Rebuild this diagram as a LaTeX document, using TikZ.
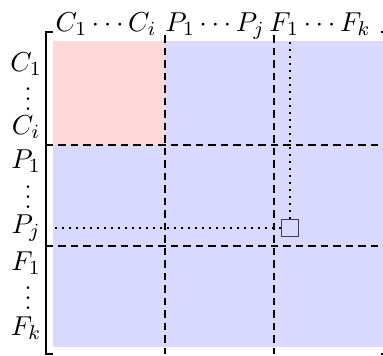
\documentclass[tikz,border=0pt]{standalone}
\usepackage{amsmath}
\usepackage{amsfonts}
\usepackage{tikz}

\definecolor{edgeblue}{RGB}{60,60,110}

\begin{document}
\begin{tikzpicture}[x=0.4pt,y=-0.4pt,
    block/.style={dash pattern=on 3pt off 2pt, line width=0.7pt},
    trace/.style={dotted, line width=0.8pt},
    lab/.style={anchor=base, inner sep=0pt, font=\fontsize{11pt}{13pt}\selectfont},
    dots/.style={lab, text height=9pt},
    entry/.style={draw=edgeblue, fill=blue!15, minimum size=6.8pt, inner sep=0pt}]
    \useasboundingbox (0,0) rectangle (383,356);
    \clip (0,0) rectangle (383,356);

    % Blocks of the matrix
    \fill[blue!15] (53,41) rectangle (400,347);
    \fill[red!15] (53,41) rectangle (165,145);

    % Block borders
    \draw[block] (165,35) -- (165,354);
    \draw[block] (274,35) -- (274,354);
    \draw[block] (46,145) -- (390,145);
    \draw[block] (46,246) -- (390,246);

    % Selected entry and its row and column
    \node[entry] (elem) at (290.5,228) {};
    \coordinate (coltop) at (290.5,40);
    \coordinate (rowleft) at (53,228);
    \draw[trace] (elem) -- (coltop);
    \draw[trace] (elem) -- (rowleft);

    % Brackets
    \draw[line width=0.9pt] (53,32) -- (46,32) -- (46,354) -- (53,354);
    \draw[line width=0.9pt] (381,32) -- (389,32) -- (389,354) -- (381,354);

    % Column labels
    \node[lab] (ctop) at (106,31) {$C_1\cdots C_i$};
    \node[lab] (ptop) at (215,31) {$P_1\cdots P_j$};
    \node[lab] (ftop) at (320,31) {$F_1\cdots F_k$};

    % Row labels
    \node[lab] (c1) at (26,71) {$C_1$};
    \node[dots] (cdots) at (28,110) {$\vdots$};
    \node[lab] (ci) at (26,134) {$C_i$};
    \node[lab] (p1) at (26,168) {$P_1$};
    \node[dots] (pdots) at (28,208) {$\vdots$};
    \node[lab] (pj) at (26,233) {$P_j$};
    \node[lab] (f1) at (26,270) {$F_1$};
    \node[dots] (fdots) at (28,309) {$\vdots$};
    \node[lab] (fk) at (26,335) {$F_k$};
\end{tikzpicture}
\end{document}
